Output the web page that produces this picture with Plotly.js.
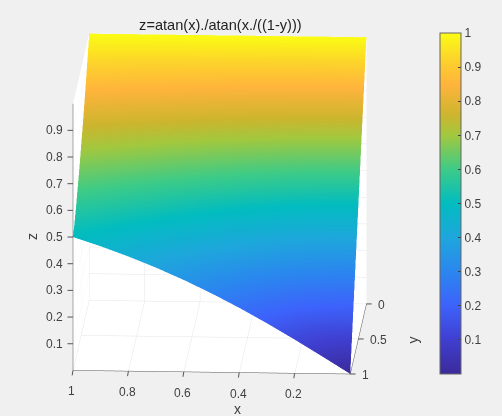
<!DOCTYPE html>
<html>
<head>
<meta charset="utf-8">
<script src="https://cdn.plot.ly/plotly-3.0.1.min.js"></script>
<style>html,body{margin:0;padding:0;background:#f0f0f0;overflow:hidden}</style>
</head>
<body>
<div id="chart" style="width:502px;height:416px"></div>
<script>
// grid
const xVals = [0, 0.1, 0.2, 0.3, 0.4, 0.5, 0.6, 0.7, 0.8, 0.9, 1];
const yVals = [0, 0.2, 0.4, 0.6, 0.8, 0.9, 1];
const zRowY00 = [1, 1, 1, 1, 1, 1, 1, 1, 1, 1, 1];
const zRowY02 = [0.8, 0.801, 0.806, 0.812, 0.821, 0.83, 0.84, 0.85, 0.859, 0.868, 0.876];
const zRowY04 = [0.6, 0.604, 0.614, 0.629, 0.647, 0.667, 0.688, 0.708, 0.728, 0.746, 0.762];
const zRowY06 = [0.4, 0.407, 0.426, 0.453, 0.484, 0.517, 0.55, 0.581, 0.609, 0.636, 0.66];
const zRowY08 = [0.2, 0.215, 0.251, 0.297, 0.344, 0.389, 0.433, 0.472, 0.509, 0.542, 0.572];
const zRowY09 = [0.1, 0.127, 0.178, 0.233, 0.287, 0.338, 0.384, 0.427, 0.466, 0.502, 0.534];
const zRowY10 = [0, 0.0635, 0.1257, 0.1856, 0.2422, 0.2951, 0.344, 0.3888, 0.4295, 0.4665, 0.5];

const xTicks = [0.2, 0.4, 0.6, 0.8, 1];
const yTicks = [0, 0.5, 1];
const zTicks = [0.1, 0.2, 0.3, 0.4, 0.5, 0.6, 0.7, 0.8, 0.9];
const cbTicks = [0.1, 0.2, 0.3, 0.4, 0.5, 0.6, 0.7, 0.8, 0.9, 1];

const colors = [
    [0, '#3b2a9a'], [0.1, '#3f3fd0'], [0.2, '#3d62fb'], [0.3, '#2b86ef'],
    [0.4, '#1ea6dc'], [0.5, '#02bcc0'], [0.6, '#3dcb88'], [0.7, '#a2c83e'],
    [0.76, '#cdb52e'], [0.85, '#ffb43c'], [0.92, '#fcd22c'], [1, '#fbfc14']
];

const axisFont = { family: 'Liberation Sans, Arial, sans-serif', size: 12, color: '#404040' };

function sceneAxis(ticks) {
    return {
        title: { text: '' },
        range: [0, 1],
        tickmode: 'array',
        tickvals: ticks,
        showticklabels: false,
        ticks: '',
        showline: true,
        linecolor: '#555',
        linewidth: 1,
        showgrid: true,
        gridcolor: '#e4e4e4',
        showbackground: true,
        backgroundcolor: '#fff',
        zeroline: false,
        showspikes: false
    };
}

function axisLabel(text, px, py, angle) {
    return {
        text: text,
        xref: 'paper',
        yref: 'paper',
        x: px / 502,
        y: 1 - py / 416,
        xanchor: 'center',
        yanchor: 'middle',
        showarrow: false,
        textangle: angle,
        font: { family: axisFont.family, size: 14, color: '#404040' }
    };
}

// tick labels sit at the axis ticks, pushed off the axis by a few pixels
function tickLabel(x, y, z, text, xanchor, xshift, yshift) {
    return {
        x: x,
        y: y,
        z: z,
        text: text,
        showarrow: false,
        xanchor: xanchor,
        yanchor: 'middle',
        xshift: xshift,
        yshift: yshift,
        font: axisFont
    };
}

// native 3d ticks point the wrong way in this view, so use short arrows
// (tiny font keeps the blank text box from eating the arrow)
function tickMark(x, y, z, ax, ay) {
    return {
        x: x,
        y: y,
        z: z,
        text: ' ',
        font: { size: 1 },
        borderpad: 0,
        showarrow: true,
        arrowhead: 0,
        arrowwidth: 1,
        arrowcolor: '#555',
        standoff: 0,
        ax: ax,
        ay: ay
    };
}

const tickLabels = [
    ...xTicks.map(t => tickLabel(t, 1, 0, String(t), 'center', -1, -21)),
    ...yTicks.map(t => tickLabel(0, t, 0, String(t), 'left', 10, -1)),
    ...zTicks.map(t => tickLabel(1, 1, t, String(t), 'right', -8, 0))
];
const tickMarks = [
    ...xTicks.map(t => tickMark(t, 1, 0, -1, 6)),
    ...yTicks.map(t => tickMark(0, t, 0, 6, 0)),
    ...zTicks.map(t => tickMark(1, 1, t, -6, 0))
];

const trace = {
    type: 'surface',
    x: xVals,
    y: yVals,
    z: [zRowY00, zRowY02, zRowY04, zRowY06, zRowY08, zRowY09, zRowY10],
    cmin: 0,
    cmax: 1,
    colorscale: colors,
    lighting: { ambient: 1, diffuse: 0, specular: 0, fresnel: 0, roughness: 1 },
    hoverinfo: 'skip',
    colorbar: {
        x: 440 / 502,
        xanchor: 'left',
        thickness: 21,
        len: 340.5 / 416,
        lenmode: 'fraction',
        y: 1 - 33 / 416,
        yanchor: 'top',
        ypad: 0,
        xpad: 0,
        tickmode: 'array',
        tickvals: cbTicks,
        ticktext: cbTicks.map(String),
        ticks: 'inside',
        ticklen: 3,
        tickcolor: '#404040',
        tickfont: axisFont,
        outlinecolor: '#666',
        outlinewidth: 1
    }
};

const layout = {
    width: 502,
    height: 416,
    margin: { l: 0, r: 0, t: 0, b: 0 },
    paper_bgcolor: '#f0f0f0',
    title: {
        text: 'z=atan(x)./atan(x./((1-y)))',
        font: { family: axisFont.family, size: 14.6, color: '#222' },
        x: 220.4 / 502,
        xanchor: 'center',
        y: 1 - 25 / 416,
        yanchor: 'middle'
    },
    annotations: [
        axisLabel('x', 237, 409, 0),
        axisLabel('y', 412.5, 340, -90),
        axisLabel('z', 32, 237, -90)
    ],
    scene: {
        domain: { x: [0, 0.86], y: [0, 1] },
        aspectmode: 'manual',
        aspectratio: { x: 1.335, y: 1.423, z: 1.32 },
        camera: {
            projection: { type: 'orthographic' },
            eye: { x: -0.0628, y: 1.477, z: 0.34 },
            center: { x: 0.018, y: 0, z: -0.021 },
            up: { x: 0, y: 0, z: 1 }
        },
        annotations: [...tickMarks, ...tickLabels],
        xaxis: sceneAxis(xTicks),
        yaxis: sceneAxis(yTicks),
        zaxis: sceneAxis(zTicks)
    }
};

Plotly.newPlot('chart', [trace], layout, { displayModeBar: false });
</script>
</body>
</html>
